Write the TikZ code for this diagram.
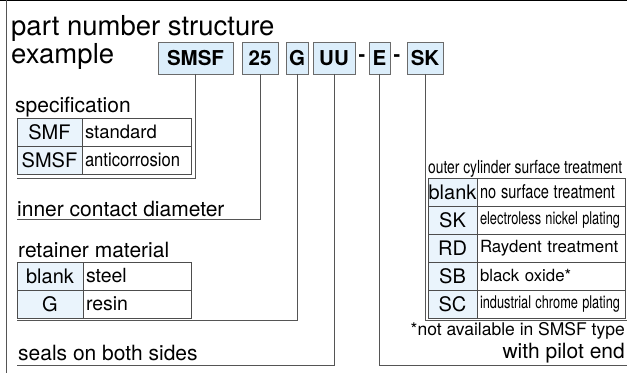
\documentclass[tikz,border=0pt]{standalone}
\usepackage{fontspec}
\setmainfont{TeX Gyre Heros}
\usepackage{graphicx}
\usetikzlibrary{positioning}
\definecolor{CodeFill}{HTML}{DCEEFB}
\definecolor{KeyFill}{HTML}{EAF4FC}
\definecolor{CodeLine}{HTML}{6B6B6B}
\definecolor{CellLine}{HTML}{4D4D4D}
\definecolor{LineGray}{HTML}{555555}
\newcommand\pxsize[1]{\fontsize{#1}{#1}\selectfont}
\newcommand\fitw[2]{\resizebox{#1}{\height}{#2}}

\begin{document}
\begin{tikzpicture}[
  x=1pt, y=-1pt,
  code/.style={rectangle, draw=CodeLine, fill=CodeFill, line width=0.9pt, minimum height=32pt, inner sep=0pt, outer sep=0pt, font=\pxsize{20.5}\bfseries},
  hyph/.style={rectangle, minimum width=14pt, inner sep=0pt, outer sep=0pt, font=\pxsize{20}\bfseries},
  keycell/.style={rectangle, draw=CellLine, fill=KeyFill, line width=0.9pt, minimum height=28pt, inner sep=0pt, outer sep=0pt, align=center, font=\pxsize{20}},
  desccell/.style={rectangle, draw=CellLine, fill=white, line width=0.9pt, minimum height=28pt, inner xsep=3pt, inner ysep=0pt, outer sep=0pt, align=left, font=\pxsize{18.5}},
  heading/.style={anchor=base west, inner sep=0pt, font=\pxsize{21}},
  lead/.style={LineGray, line width=0.9pt}
]
\useasboundingbox (0,0) rectangle (627,377);

% Frame
\draw[black, line width=1.2pt] (0,0.6) -- (627,0.6);
\draw[LineGray, line width=1pt] (6.5,0) -- (6.5,373);

% Title
\node[heading, font=\pxsize{27.5}] (title) at (11,36) {part number structure};
\node[heading, font=\pxsize{27.5}] (example) at (11,64) {example};

% Code boxes
\node[code, minimum width=75pt] (smsf) at (195.5,58) {SMSF};
\node[code, minimum width=36pt, right=9pt of smsf] (dia) {25};
\node[code, minimum width=22pt, right=8pt of dia] (ret) {G};
\node[code, minimum width=42pt, right=5pt of ret] (seal) {UU};
\node[hyph, right=0pt of seal] (hyphA) {-};
\node[code, minimum width=21pt, right=0pt of hyphA] (pilot) {E};
\node[hyph, right=0pt of pilot] (hyphB) {-};
\node[code, minimum width=36pt, right=3pt of hyphB] (surf) {SK};

% Specification
\node[heading] (spechead) at (15,113) {specification};
\node[keycell, minimum width=65pt, anchor=north west] (smfkey) at (17,118) {SMF};
\node[desccell, text width=103pt, right=0pt of smfkey] (smfdesc) {standard};
\node[keycell, minimum width=65pt, below=0pt of smfkey] (smsfkey) {SMSF};
\node[desccell, text width=103pt, font=\pxsize{19}, right=0pt of smsfkey] (smsfdesc) {\fitw{95pt}{anticorrosion}};

% Inner contact diameter
\node[heading] (diahead) at (17,216) {inner contact diameter};

% Retainer material
\node[heading] (rethead) at (18,257) {retainer material};
\node[keycell, minimum width=66pt, anchor=north west] (steelkey) at (17,262) {blank};
\node[desccell, text width=102pt, font=\pxsize{19.5}, right=0pt of steelkey] (steeldesc) {steel};
\node[keycell, minimum width=66pt, below=0pt of steelkey] (resinkey) {G};
\node[desccell, text width=102pt, font=\pxsize{19.5}, right=0pt of resinkey] (resindesc) {resin};

% Seals
\node[heading] (sealhead) at (18,360) {seals on both sides};

% Outer cylinder surface treatment
\node[heading, font=\pxsize{18}] (surfhead) at (428,174) {\fitw{194pt}{outer cylinder surface treatment}};
\node[keycell, minimum width=49pt, anchor=north west] (nonekey) at (428,178) {blank};
\node[desccell, text width=142pt, font=\pxsize{19}, right=0pt of nonekey] (nonedesc) {\fitw{135pt}{no surface treatment}};
\node[keycell, minimum width=49pt, below=0pt of nonekey] (skkey) {SK};
\node[desccell, text width=142pt, font=\pxsize{17.5}, right=0pt of skkey] (skdesc) {\fitw{140pt}{electroless nickel plating}};
\node[keycell, minimum width=49pt, below=0pt of skkey] (rdkey) {RD};
\node[desccell, text width=142pt, font=\pxsize{16.8}, right=0pt of rdkey] (rddesc) {Raydent treatment};
\node[keycell, minimum width=49pt, below=0pt of rdkey] (sbkey) {SB};
\node[desccell, text width=142pt, font=\pxsize{16.8}, right=0pt of sbkey] (sbdesc) {black oxide*};
\node[keycell, minimum width=49pt, below=0pt of sbkey] (sckey) {SC};
\node[desccell, text width=142pt, font=\pxsize{17.5}, right=0pt of sckey] (scdesc) {\fitw{140pt}{industrial chrome plating}};

% Notes
\node[anchor=base east, inner sep=0pt, font=\pxsize{17.5}] (note) at (625,335) {*not available in SMSF type};
\node[anchor=base east, inner sep=0pt, font=\pxsize{21}] (pilothead) at (625,358) {with pilot end};

% Leads
\coordinate (specend) at (17,178);
\coordinate (diaend) at (17,219.5);
\coordinate (retend) at (17,320);
\coordinate (sealend) at (17,365);
\coordinate (pilotend) at (627,365);
\coordinate (surfend) at (627,320);
\draw[lead] (smsf) |- (specend);
\draw[lead] (dia) |- (diaend);
\draw[lead] (ret) |- (retend);
\draw[lead] (seal) |- (sealend);
\draw[lead] (pilot) |- (pilotend);
\draw[lead] (surf) |- (surfend);

\end{tikzpicture}
\end{document}
